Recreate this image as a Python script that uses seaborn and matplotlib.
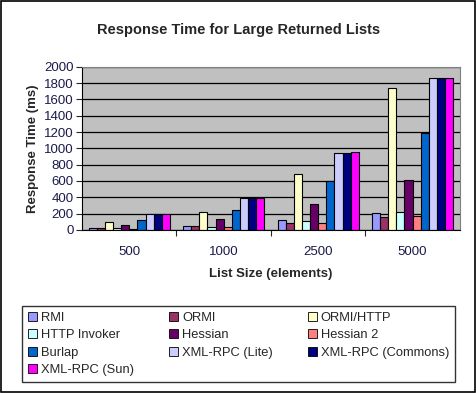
import pandas as pd
import matplotlib.pyplot as plt
import seaborn as sns
from matplotlib.patches import Rectangle

sizes = ['500', '1000', '2500', '5000']
protocols = ['RMI', 'ORMI', 'ORMI/HTTP', 'HTTP Invoker', 'Hessian', 'Hessian 2',
             'Burlap', 'XML-RPC (Lite)', 'XML-RPC (Commons)', 'XML-RPC (Sun)']
colors = ['#9999FF', '#993366', '#FFFFCC', '#CCFFFF', '#660066', '#FF8080',
          '#0066CC', '#CCCCFF', '#000080', '#FF00FF']

rmi = [28, 50, 127, 205]
ormi = [25, 48, 85, 156]
ormi_http = [100, 225, 685, 1740]
http_invoker = [20, 40, 110, 217]
hessian = [60, 135, 315, 610]
hessian2 = [15, 35, 85, 168]
burlap = [120, 245, 595, 1183]
xmlrpc_lite = [195, 390, 937, 1860]
xmlrpc_commons = [195, 390, 945, 1860]
xmlrpc_sun = [195, 390, 960, 1860]

series = [rmi, ormi, ormi_http, http_invoker, hessian, hessian2,
          burlap, xmlrpc_lite, xmlrpc_commons, xmlrpc_sun]

rows = []
for name, vals in zip(protocols, series):
    for s, v in zip(sizes, vals):
        rows.append({'size': s, 'protocol': name, 'ms': v})
df = pd.DataFrame(rows)

sns.set_style('white')
plt.rcParams['font.family'] = ['Liberation Sans', 'DejaVu Sans']

fig = plt.figure(figsize=(4.77, 3.93), dpi=100)
ax = fig.add_axes([0.172, 0.415, 0.792, 0.415])
ax.set_facecolor('#C0C0C0')

sns.barplot(data=df, x='size', y='ms', hue='protocol', order=sizes,
            hue_order=protocols, palette=colors, width=0.86,
            edgecolor='black', linewidth=0.8, saturation=1, ax=ax, legend=False)

ax.set_ylim(0, 2000)
ax.set_yticks(range(0, 2001, 200))
ax.yaxis.grid(True, color='black', linewidth=0.9)
ax.set_axisbelow(True)
ax.set_xlim(-0.5, 3.5)
for sp in ['top', 'right']:
    ax.spines[sp].set_color('#808080')
for sp in ['left', 'bottom']:
    ax.spines[sp].set_color('black')
ax.tick_params(axis='y', left=True, length=4, width=0.8, labelsize=9.5,
               labelcolor='#1a1a4a', pad=2)
ax.tick_params(axis='x', bottom=False, labelsize=9.5, labelcolor='#1a1a4a', pad=8)
ax.set_xticks([0.5, 1.5, 2.5], minor=True)
ax.tick_params(axis='x', which='minor', bottom=True, length=4, width=0.8)

ax.set_xlabel('List Size (elements)', fontsize=9.5, fontweight='bold', labelpad=7)
ax.set_ylabel('Response Time (ms)', fontsize=9.5, fontweight='bold', labelpad=4)
fig.text(0.5, 0.924, 'Response Time for Large Returned Lists', ha='center',
         va='center', fontsize=10.5, fontweight='bold')

# row-major legend order like the original (matplotlib fills columns first)
order = [0, 3, 6, 9, 1, 4, 7, 2, 5, 8]
handles = [Rectangle((0, 0), 1, 1, facecolor=colors[i], edgecolor='black',
                     linewidth=0.6) for i in order]
labels = [protocols[i] for i in order]
leg = fig.legend(handles, labels, loc='lower left',
                 bbox_to_anchor=(0.046, 0.028, 0.908, 0.214), mode='expand',
                 ncol=3, fontsize=9.3, frameon=True, fancybox=False,
                 handlelength=0.7, handleheight=0.7, handletextpad=0.3,
                 labelspacing=0.42, borderaxespad=0, columnspacing=0.5,
                 borderpad=0.45)
leg.get_frame().set_edgecolor('black')
leg.get_frame().set_linewidth(1)

fig.patches.append(Rectangle((0.002, 0.003), 0.994, 0.994, transform=fig.transFigure,
                             fill=False, edgecolor='black', linewidth=1.2))

fig.savefig('out.png', dpi=100)
